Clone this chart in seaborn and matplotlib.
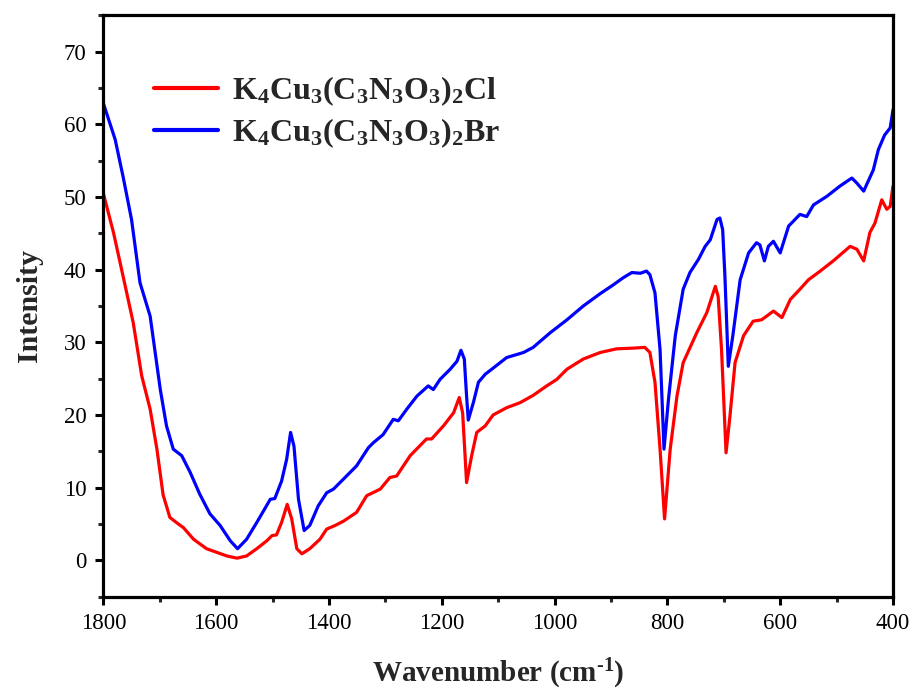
import numpy as np
import pandas as pd
import matplotlib
matplotlib.use("Agg")
import matplotlib.pyplot as plt
from matplotlib.ticker import MultipleLocator
import seaborn as sns

# FTIR spectra (wavenumber in cm^-1, intensity)
label_cl = r"$\mathbf{K_4Cu_3(C_3N_3O_3)_2Cl}$"
label_br = r"$\mathbf{K_4Cu_3(C_3N_3O_3)_2Br}$"

wn_cl = [1800, 1782, 1765, 1747, 1732, 1717, 1705, 1694, 1682, 1667, 1658, 1640,
         1617, 1599, 1581, 1563, 1546, 1528, 1510, 1501, 1493, 1484, 1474, 1466,
         1457, 1448, 1434, 1416, 1404, 1389, 1374, 1351, 1333, 1309, 1292, 1280,
         1256, 1227, 1218, 1197, 1179, 1169, 1163, 1156, 1147, 1138, 1123, 1109,
         1085, 1061, 1038, 1014, 996, 978, 949, 919, 890, 860, 840, 831, 822, 813,
         805, 795, 783, 772, 748, 730, 715, 710, 704, 696, 689, 680, 665, 648, 633,
         624, 612, 597, 582, 565, 550, 529, 506, 476, 464, 452, 441, 432, 420, 411,
         405, 400]
int_cl = [50.5, 45.1, 39.1, 32.7, 25.4, 20.8, 15.3, 9.0, 5.9, 5.0, 4.5, 2.9,
          1.6, 1.1, 0.6, 0.3, 0.6, 1.6, 2.7, 3.4, 3.5, 5.2, 7.7, 5.7,
          1.6, 0.9, 1.6, 2.9, 4.3, 4.8, 5.4, 6.6, 8.9, 9.8, 11.4, 11.6,
          14.4, 16.7, 16.7, 18.5, 20.3, 22.4, 20.3, 10.7, 14.4, 17.6, 18.5, 20.0,
          21.0, 21.7, 22.7, 24.0, 24.9, 26.3, 27.7, 28.6, 29.1, 29.2, 29.3, 28.6, 24.5, 15.3,
          5.7, 15.3, 22.6, 27.2, 31.3, 34.1, 37.7, 36.3, 29.0, 14.8, 19.9, 27.2, 30.9, 32.9, 33.1,
          33.6, 34.3, 33.4, 35.9, 37.3, 38.6, 39.8, 41.2, 43.2, 42.8, 41.2, 45.1, 46.4, 49.6, 48.3,
          48.7, 51.5]

wn_br = [1800, 1779, 1765, 1750, 1735, 1717, 1699, 1688, 1676, 1661, 1646, 1629,
         1611, 1593, 1575, 1562, 1546, 1528, 1504, 1496, 1484, 1475, 1468, 1462,
         1454, 1444, 1434, 1419, 1404, 1392, 1374, 1351, 1330, 1321, 1304, 1286,
         1277, 1262, 1244, 1224, 1215, 1203, 1185, 1173, 1166, 1160, 1156, 1153,
         1144, 1135, 1123, 1108, 1085, 1055, 1038, 1008, 978, 949, 919, 896, 878,
         863, 848, 837, 831, 822, 813, 806, 798, 786, 772, 760, 745, 733, 724, 712,
         707, 702, 698, 692, 684, 671, 656, 642, 636, 628, 621, 612, 600, 585, 565,
         553, 541, 517, 494, 473, 464, 452, 435, 426, 415, 405, 400]
int_br = [62.9, 57.9, 52.8, 46.9, 38.2, 33.6, 23.5, 18.5, 15.3, 14.4, 12.1, 9.1,
          6.4, 4.8, 2.7, 1.6, 2.9, 5.2, 8.4, 8.5, 10.9, 13.9, 17.6, 15.7,
          8.4, 4.1, 4.8, 7.5, 9.3, 9.8, 11.2, 13.0, 15.5, 16.2, 17.3, 19.4,
          19.2, 20.8, 22.6, 24.0, 23.5, 24.9, 26.3, 27.4, 28.9, 27.7, 22.6, 19.3,
          21.7, 24.5, 25.6, 26.5, 27.9, 28.6, 29.3, 31.3, 33.1, 35.0, 36.7, 37.9, 38.9,
          39.6, 39.5, 39.8, 39.3, 36.8, 29.0, 15.3, 22.2, 30.9, 37.3, 39.6, 41.4, 43.2, 44.1, 46.9,
          47.1, 45.5, 39.1, 26.7, 30.9, 38.6, 42.3, 43.7, 43.4, 41.2, 43.2, 43.9, 42.3, 46.0, 47.6,
          47.3, 48.9, 50.1, 51.5, 52.6, 51.9, 50.8, 53.7, 56.5, 58.5, 59.5, 62.0]

x_ticks = [1800, 1600, 1400, 1200, 1000, 800, 600, 400]
y_ticks = [0, 10, 20, 30, 40, 50, 60, 70]

df = pd.concat([
    pd.DataFrame({"wavenumber": wn_cl, "intensity": int_cl, "sample": label_cl}),
    pd.DataFrame({"wavenumber": wn_br, "intensity": int_br, "sample": label_br}),
], ignore_index=True)

sns.set_style("ticks")
plt.rcParams["font.family"] = ["Liberation Serif", "DejaVu Serif"]
plt.rcParams["mathtext.fontset"] = "custom"
plt.rcParams["mathtext.rm"] = "Liberation Serif"
plt.rcParams["mathtext.it"] = "Liberation Serif:italic"
plt.rcParams["mathtext.bf"] = "Liberation Serif:bold"

fig = plt.figure(figsize=(9.16, 6.93), dpi=100)
ax = fig.add_axes([0.1128, 0.139, 0.8621, 0.839])

sns.lineplot(data=df, x="wavenumber", y="intensity", hue="sample",
             palette={label_cl: "#ff0000", label_br: "#0000ff"},
             estimator=None, sort=False, linewidth=2.3, ax=ax)

ax.set_xlim(1800, 400)
ax.set_ylim(-5, 75)
ax.set_xticks(x_ticks)
ax.set_yticks(y_ticks)
ax.xaxis.set_minor_locator(MultipleLocator(100))
ax.yaxis.set_minor_locator(MultipleLocator(5))
ax.tick_params(axis="both", which="major", direction="out", length=6, width=2.2,
               labelsize=16.5, colors="black", pad=6)
ax.tick_params(axis="both", which="minor", direction="out", length=3.5, width=2.2)
ax.tick_params(top=False, right=False, which="both")
for side in ["left", "bottom", "top", "right"]:
    ax.spines[side].set_visible(True)
    ax.spines[side].set_linewidth(2.3)
    ax.spines[side].set_color("black")

ax.set_xlabel("Wavenumber (cm$^{\\mathbf{\u2010}\\mathbf{1}}$)", fontsize=21,
              fontweight="bold", labelpad=16)
ax.set_ylabel("Intensity", fontsize=21.5, fontweight="bold", labelpad=15)

leg = ax.legend(loc="upper left", bbox_to_anchor=(0.064, 0.898), frameon=False,
                fontsize=23, handlelength=2.0, handletextpad=0.44, labelspacing=0.25,
                borderpad=0, borderaxespad=0)
for line in leg.get_lines():
    line.set_linewidth(3)

fig.savefig("out.png", dpi=100)
